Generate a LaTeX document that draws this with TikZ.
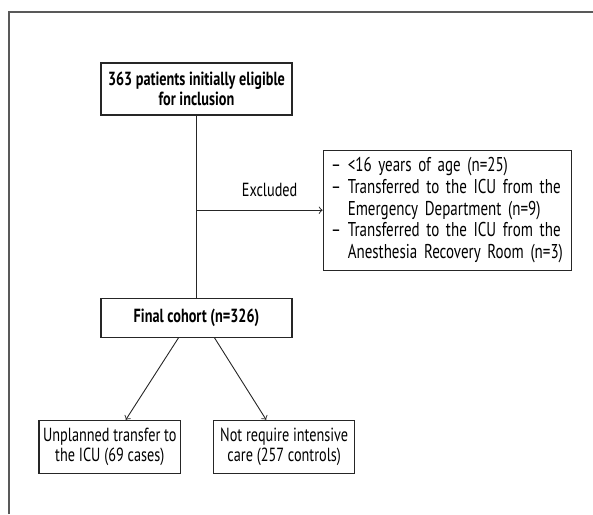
\documentclass[tikz,border=0pt]{standalone}
\usepackage{fontspec}
\setmainfont[FakeStretch=0.75]{PT Sans}
\usetikzlibrary{%
    shapes,%
    arrows,%
    positioning,%
    calc%
}
\tikzset{
    block/.style = {draw, rectangle, line width=0.6pt, draw=black!85, fill=white,
    minimum width = 95.5pt, minimum height = 26pt, inner sep=2pt, align=center,
    font=\fontsize{9.5}{10}\selectfont},
    bold/.style = {font=\fontsize{9.5}{10}\selectfont\bfseries},
    arr/.style = {->, line width=0.45pt, draw=black!85},
    link/.style = {line width=0.45pt, draw=black!85},
    frame/.style = {draw=black!65, line width=0.75pt}
}

\begin{document}
\begin{tikzpicture}
    \useasboundingbox (-98.25pt,44.5pt) rectangle (198.25pt,-212.5pt);
    \draw[frame] (-93.75pt,-212.5pt) -- (-93.75pt,38.5pt) -- (198.25pt,38.5pt);
    \node[block, bold] (initial) {363 patients initially eligible\\for inclusion};
    \node[block, below right = 17pt and 15pt of initial, align=left, text width=116pt, minimum height=60pt, inner xsep=4pt, font=\fontsize{10}{10.8}\selectfont] (excl) {%
        -- <16 years of age (n=25)\\
        -- Transferred to the ICU from the\\
        \phantom{-- }Emergency Department (n=9)\\
        -- Transferred to the ICU from the\\
        \phantom{-- }Anesthesia Recovery Room (n=3)};
    \node[block, bold, below = 91pt of initial, minimum height=19.5pt] (final) {Final cohort (n=326)};
    \node[block, below left = 41pt and -40.35pt of final, minimum width=70.5pt, minimum height=26.5pt] (unpl) {Unplanned transfer to\\the ICU (69 cases)};
    \node[block, right = 16pt of unpl, minimum width=70.5pt, minimum height=26.5pt] (notreq) {Not require intensive\\care (257 controls)};
    \coordinate (split) at (initial.south |- excl.west);
    \draw[link] (initial.south) -- (final.north);
    \draw[arr] (split) -- node[above=3pt, pos=0.58, font=\fontsize{9.5}{10}\selectfont] (exlab) {Excluded} (excl.west);
    \draw[arr] ([xshift=-9pt]final.south) -- ([xshift=8pt]unpl.north);
    \draw[arr] ([xshift=9pt]final.south) -- ([xshift=-9pt]notreq.north);
\end{tikzpicture}
\end{document}
